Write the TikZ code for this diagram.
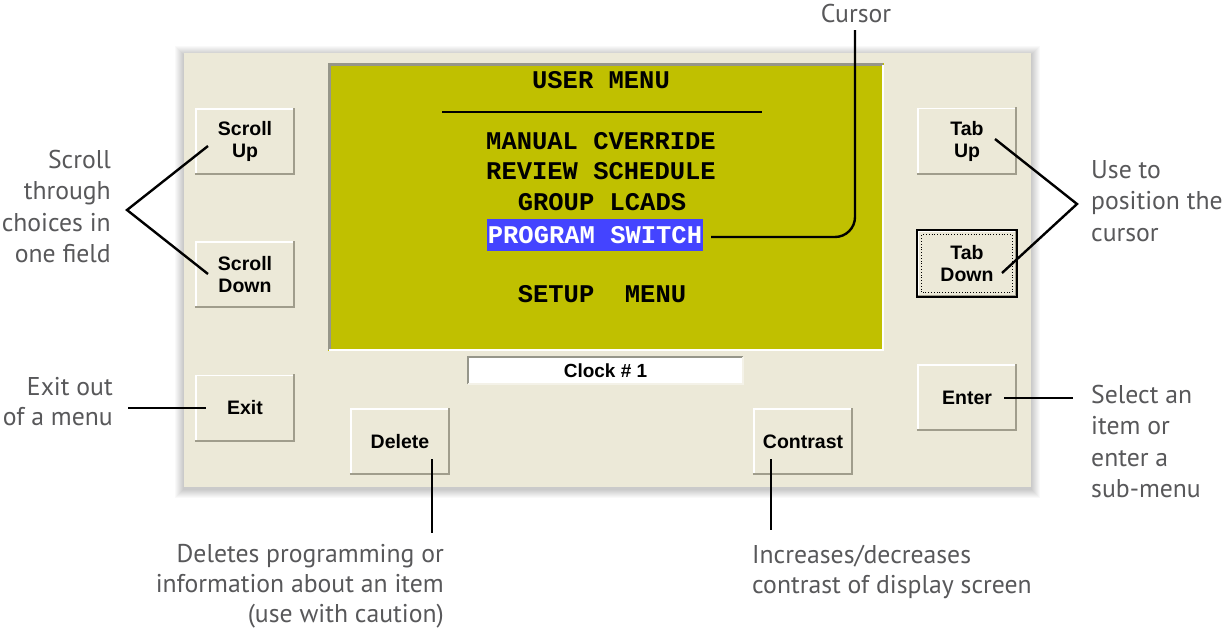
\documentclass[tikz,border=0pt]{standalone}
\usepackage{fontspec}
\setmainfont{PT Sans}
\newfontfamily\btnfamily{Liberation Sans}
\newfontfamily\lcdfamily{Liberation Mono}
\definecolor{panel}{RGB}{236,233,216}
\definecolor{btnshade}{RGB}{160,157,140}
\definecolor{btnlight}{RGB}{255,255,255}
\definecolor{lcd}{RGB}{192,192,0}
\definecolor{lcdframe}{RGB}{150,150,138}
\definecolor{selblue}{RGB}{68,68,255}
\definecolor{anngray}{RGB}{88,88,90}
\tikzset{
  btn/.style={rectangle, fill=panel, minimum width=100, minimum height=67, inner sep=0,
    align=center, font=\btnfamily\bfseries\fontsize{19.5}{22}\selectfont},
  annot/.style={inner sep=0, text=anngray, font=\fontsize{25.7}{31.5}\selectfont},
  annotb/.style={inner sep=0, text=anngray, font=\fontsize{25.7}{30}\selectfont},
  lcdtext/.style={inner sep=0, font=\lcdfamily\bfseries\fontsize{25.5}{30}\selectfont, text=black},
  lead/.style={draw=black, line width=2.4},
}
\newcommand{\bevel}[1]{%
  \draw[btnlight, line width=1.6] ([xshift=1,yshift=1]#1.south west) -- ([xshift=1,yshift=-1]#1.north west) -- ([xshift=-1,yshift=-1]#1.north east);
  \draw[btnshade, line width=2.4] ([xshift=0,yshift=1]#1.south west) -- ([xshift=-1,yshift=1]#1.south east) -- ([xshift=-1,yshift=0]#1.north east);
}
\begin{document}
\begin{tikzpicture}[x=1pt,y=-1pt]
\useasboundingbox[fill=white] (0,0) rectangle (1224,627);
% panel shadow
\foreach \s in {1,2,...,9}{
  \fill[black, opacity=0.025] (184-\s,53-\s+2) rectangle (1031+\s,487+\s+2);
}
\fill[panel] (184,53) rectangle (1031,487);
% LCD screen
\fill[lcd] (328,63) rectangle (884,351);
\draw[lcdframe, line width=3] (329.5,350) -- (329.5,64.5) -- (883,64.5);
\draw[white, line width=2] (329,350) -- (883,350) -- (883,65);
\node[lcdtext, anchor=base] (um) at (601,88) {USER MENU};
\draw[black, line width=1.5] (442,112) -- (762,112);
\node[lcdtext, anchor=base] (l1) at (601,149) {MANUAL CVERRIDE};
\node[lcdtext, anchor=base] (l2) at (601,179) {REVIEW SCHEDULE};
\node[lcdtext, anchor=base] (l3) at (602,210) {GROUP LCADS};
\node[lcdtext, fill=selblue, text=white, minimum width=216, minimum height=32] (l4) at (595,235) {PROGRAM SWITCH};
\node[lcdtext, anchor=base] (l5) at (602,302) {SETUP\ \ MENU};
% clock box
\node[fill=white, minimum width=275, minimum height=27, inner sep=0,
  font=\btnfamily\bfseries\fontsize{19}{20}\selectfont] (clk) at (605.5,370.5) {Clock \# 1};
\draw[lcdframe, line width=2] (clk.south west) -- (clk.north west) -- (clk.north east);
\draw[panel!60!white, line width=1.5] (clk.south west) -- (clk.south east) -- (clk.north east);
% buttons
\node[btn] (su) at (245,141.5) {Scroll\\Up};
\node[btn] (sd) at (245,274.5) {Scroll\\Down};
\node[btn] (ex) at (245,408) {Exit};
\node[btn] (del) at (400,441.5) {Delete};
\node[btn] (con) at (803,441.5) {Contrast};
\node[btn] (ent) at (967,397.5) {Enter};
\node[btn] (tu) at (967,141) {Tab\\Up};
\node[btn] (td) at (967,263.5) {Tab\\Down};
\bevel{su}\bevel{sd}\bevel{ex}\bevel{del}\bevel{con}\bevel{ent}\bevel{tu}
\bevel{td}
\draw[black, line width=1.5] (td.south west) rectangle (td.north east);
\draw[black, line width=0.8, dotted] ([xshift=5,yshift=5]td.south west) rectangle ([xshift=-5,yshift=-5]td.north east);
% annotations (base anchor = baseline of last line)
\node[annot, align=right, anchor=base east] (tscroll) at (111,262.5) {Scroll\\through\\choices in\\one field};
\node[annotb, align=right, anchor=base east] (texit) at (113,425) {Exit out\\of a menu};
\node[annot, align=left, anchor=base west] (tuse) at (1091,241) {Use to\\position the\\cursor};
\node[annot, align=left, anchor=base west] (tsel) at (1091,497.5) {Select an\\item or\\enter a\\sub-menu};
\node[annotb, align=right, anchor=base east] (tdel) at (444,622) {Deletes programming or\\information about an item\\(use with caution)};
\node[annotb, align=left, anchor=base west] (tcon) at (752,593) {Increases/decreases\\contrast of display screen};
\node[annot, anchor=base] (tcur) at (856,22) {Cursor};
% connectors
\coordinate (sapex) at (127,210);
\coordinate (suE) at (208,146);
\coordinate (sdE) at (208,274);
\draw[lead] (suE) -- (sapex) -- (sdE);
\coordinate (exE) at (206,408);
\coordinate (exS) at (128,408);
\draw[lead] (exS) -- (exE);
\coordinate (uapex) at (1077,204);
\coordinate (tuE) at (995,139);
\coordinate (tdE) at (1002,273);
\draw[lead] (tuE) -- (uapex) -- (tdE);
\coordinate (entE) at (1004,398);
\coordinate (entS) at (1073,398);
\draw[lead] (entE) -- (entS);
\coordinate (delE) at (432,459);
\coordinate (delS) at (432,533);
\draw[lead] (delE) -- (delS);
\coordinate (conE) at (771,459);
\coordinate (conS) at (771,530);
\draw[lead] (conE) -- (conS);
\coordinate (curTop) at (855,30);
\coordinate (curEnd) at (711,237);
\draw[lead, rounded corners=20] (curTop) |- (curEnd);
\end{tikzpicture}
\end{document}
